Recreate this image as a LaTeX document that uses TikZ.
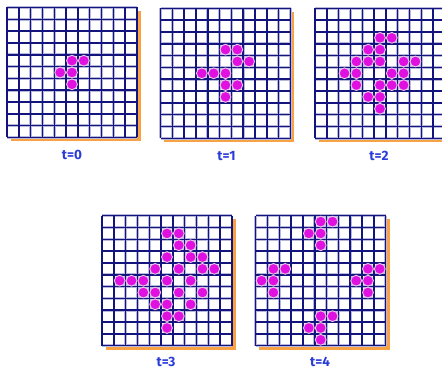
\documentclass[tikz,border=0pt]{standalone}
\usepackage{fontspec}
\setmainfont{Fira Sans}
\definecolor{navy}{HTML}{14147E}
\definecolor{halo}{HTML}{B8B8DC}
\definecolor{shadowc}{HTML}{F9A243}
\definecolor{dotc}{HTML}{E010E0}
\definecolor{dotedge}{HTML}{E6C4E8}
\definecolor{labc}{HTML}{2A3BD8}
\tikzset{
  gridhalo/.style={halo, line width=2.6pt},
  gridline/.style={navy, line width=1.5pt},
  dot/.style={fill=dotc, draw=dotedge, line width=0.9pt},
  lab/.style={text=labc, font=\fontsize{13.5}{15}\selectfont\bfseries, inner sep=0pt}
}
\newcommand\lifegrid[3]{%
  \begin{scope}[shift={(#1,#2)}]
    \fill[shadowc] (3.5,3.5) rectangle (133.8,133.8);
    \fill[white] (0,0) rectangle (130,130);
    \foreach \i in {0,...,11} {
      \draw[gridhalo] ({\i*130/11},0) -- ({\i*130/11},130);
      \draw[gridhalo] (0,{\i*130/11}) -- (130,{\i*130/11});
    }
    \foreach \i in {0,...,11} {
      \draw[gridline] ({\i*130/11},0) -- ({\i*130/11},130);
      \draw[gridline] (0,{\i*130/11}) -- (130,{\i*130/11});
    }
    \foreach \c/\r in {#3} {
      \draw[dot] ({(\c+0.5)*130/11},{(\r+0.5)*130/11}) circle (5.4);
    }
  \end{scope}}
\begin{document}
\begin{tikzpicture}[x=1pt,y=-1pt]
\useasboundingbox (0,0) rectangle (442,374);
\clip (0,0) rectangle (442,374);
\lifegrid{7}{7.5}{5/4,6/4,4/5,5/5,5/6}
\lifegrid{160.5}{8.3}{5/3,6/3,6/4,7/4,3/5,4/5,5/5,5/6,6/6,5/7}
\lifegrid{315}{8.3}{5/2,6/2,4/3,5/3,3/4,4/4,5/4,7/4,8/4,2/5,3/5,6/5,7/5,3/6,5/6,6/6,7/6,4/7,5/7,5/8}
\lifegrid{102}{215.7}{5/1,6/1,6/2,7/2,5/3,7/3,8/3,4/4,6/4,8/4,9/4,1/5,2/5,3/5,5/5,7/5,3/6,4/6,6/6,8/6,4/7,5/7,7/7,5/8,6/8,5/9}
\lifegrid{255.7}{215.7}{5/0,6/0,4/1,5/1,5/2,1/4,2/4,9/4,10/4,0/5,1/5,8/5,9/5,1/6,9/6,5/8,6/8,4/9,5/9,5/10}
\node[lab] (l0) at (72,155) {t=0};
\node[lab] (l1) at (226.5,156) {t=1};
\node[lab] (l2) at (379,156) {t=2};
\node[lab] (l3) at (166,362) {t=3};
\node[lab] (l4) at (320,362) {t=4};
\end{tikzpicture}
\end{document}
